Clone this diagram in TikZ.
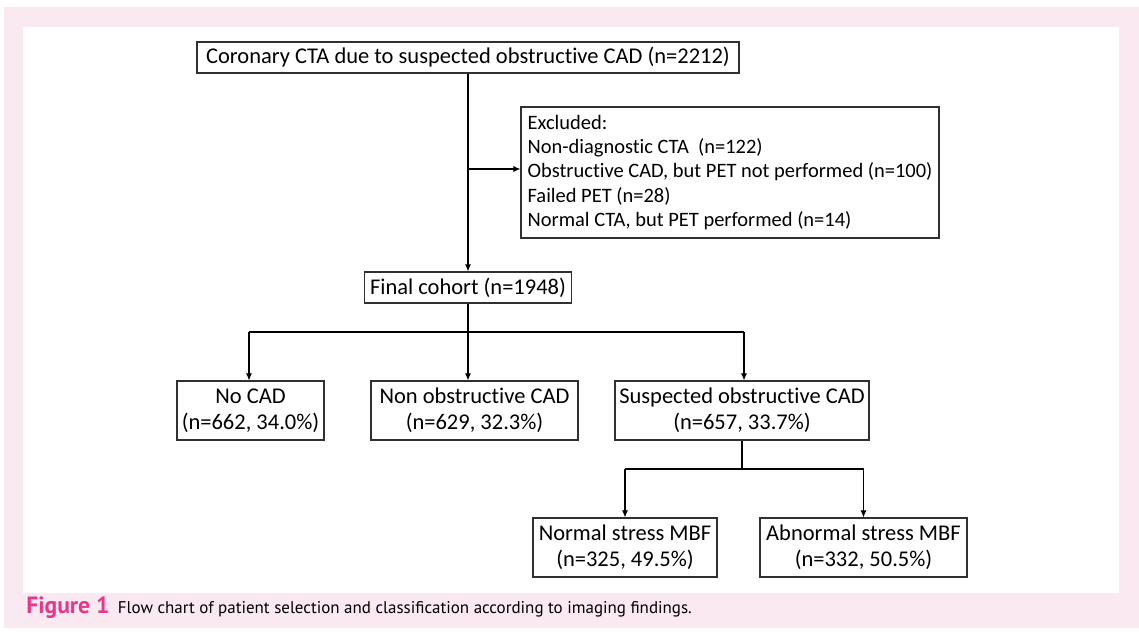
\documentclass[tikz,border=0pt]{standalone}
\usepackage{fontspec}
\setmainfont{Carlito}[RawFeature={-liga}]
\newfontfamily\captionfont{PT Sans}
\usetikzlibrary{arrows.meta}
\definecolor{panelpink}{HTML}{FBE9F1}
\definecolor{figpink}{HTML}{E8368C}
\definecolor{boxline}{HTML}{303030}

\begin{document}
\begin{tikzpicture}[x=0.02cm, y=-0.02cm, >={Latex[length=4pt,width=3.5pt]},
    box/.style={draw=boxline, line width=0.7pt, inner sep=0pt, align=center,
        font=\fontsize{12.8}{15}\selectfont},
    link/.style={line width=0.6pt}]
    \useasboundingbox (0,0) rectangle (1139,632);

    % Pink panel with the white drawing area
    \fill[panelpink] (4,7) rectangle (1139,628);
    \fill[white] (23,27) rectangle (1119,593);

    % Selection boxes
    \node[box, minimum width=10.84cm, minimum height=0.62cm] (cta) at (468,57.5)
        {Coronary CTA due to suspected obstructive CAD (n=2212)};
    \node[box, align=left, inner xsep=0.1cm, minimum width=8.36cm, minimum height=2.62cm,
        font=\fontsize{11.65}{13.9}\selectfont] (excl) at (730,172.5)
        {Excluded:\\
         Non-diagnostic CTA~~(n=122)\\
         Obstructive CAD, but PET not performed (n=100)\\
         Failed PET (n=28)\\
         Normal CTA, but PET performed (n=14)};
    \node[box, minimum width=4.14cm, minimum height=0.62cm] (cohort) at (468,287.5)
        {Final cohort (n=1948)};

    % Classification boxes
    \node[box, minimum width=2.94cm, minimum height=1.18cm] (nocad) at (250.5,410.5)
        {No CAD\\(n=662, 34.0\%)};
    \node[box, minimum width=4.14cm, minimum height=1.18cm] (nonobs) at (474.5,410.5)
        {Non obstructive CAD\\(n=629, 32.3\%)};
    \node[box, minimum width=5.08cm, minimum height=1.18cm] (susp) at (742,410.5)
        {Suspected obstructive CAD\\(n=657, 33.7\%)};
    \node[box, minimum width=3.68cm, minimum height=1.18cm] (normal) at (625,547.5)
        {Normal stress MBF\\(n=325, 49.5\%)};
    \node[box, minimum width=4.14cm, minimum height=1.18cm] (abnormal) at (863.5,547.5)
        {Abnormal stress MBF\\(n=332, 50.5\%)};

    % Main line and exclusion arrow
    \draw[link, ->] (cta.south) -- (cohort.north);
    \coordinate (tap) at (468,169);
    \draw[link, ->] (tap) -- (tap -| excl.west);

    % First split
    \coordinate (b1) at (249,332);
    \coordinate (b3) at (744,332);
    \draw[link] (cohort.south) -- (cohort.south |- b1);
    \draw[link] (b1) -- (b3);
    \draw[link, ->] (b1) -- (b1 |- nocad.north);
    \draw[link, ->] (cohort.south |- b1) -- (cohort.south |- nonobs.north);
    \draw[link, ->] (b3) -- (b3 |- susp.north);

    % Second split
    \coordinate (c1) at (625,469);
    \coordinate (c2) at (863.5,469);
    \draw[link] (susp.south) -- (susp.south |- c1);
    \draw[link] (c1) -- (c2);
    \draw[link, ->] (c1) -- (normal.north);
    \draw[link, ->] (c2) -- (abnormal.north);

    % Caption
    \node[anchor=base west, inner sep=0pt, font=\captionfont\fontsize{9.65}{11}\selectfont] (caption) at (26,613)
        {{\bfseries\color{figpink}\fontsize{13.4}{12}\selectfont Figure 1}\hspace{0.5em}Flow chart of patient selection and classification according to imaging findings.};
\end{tikzpicture}
\end{document}
